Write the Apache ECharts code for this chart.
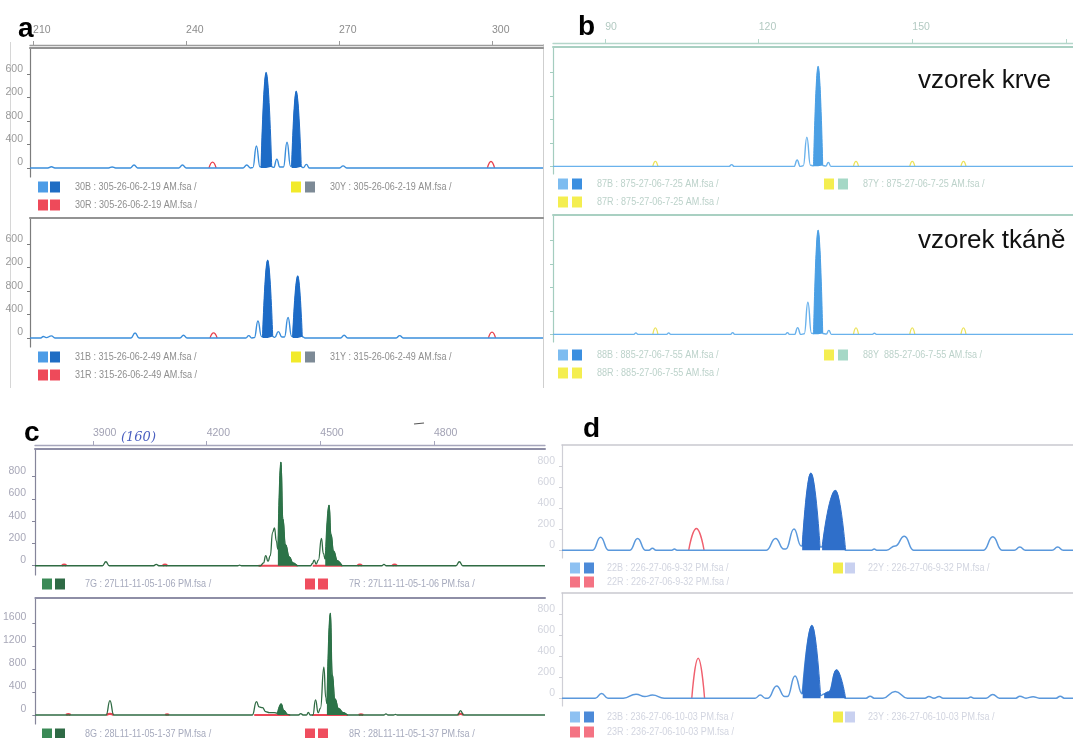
<!DOCTYPE html>
<html>
<head>
<meta charset="utf-8">
<script src="https://cdn.jsdelivr.net/npm/echarts@6/dist/echarts.min.js"></script>
<style>
html,body{margin:0;padding:0;background:#fff}
#chart{width:1073px;height:738px}
</style>
</head>
<body>
<div id="chart"></div>
<script>
// ---------------- data ----------------
// Panel a: fragment size (bp) vs. signal (RFU), blue and red dye channels
const aSizeTicks = [210, 240, 270, 300];
const aRfuTicks = [0, 400, 800, 1200, 1600];
const aRfuLabels = ['0', '400', '800', '200', '600'];
const a1Blue = [
  [209.4,0],[212.9,0],[213.6,20],[214.3,0],
  [224.8,0],[225.5,15],[226.2,0],
  [229.1,0],[229.8,50],[230.5,0],
  [238.6,0],[239.3,50],[240.0,0],
  [251.2,0],[251.9,50],[252.6,0],
  [253.1,5],[253.8,375],[254.5,20],
  [254.7,15],[255.7,1630],[256.8,20],
  [257.2,10],[257.8,150],[258.4,15],
  [259.1,15],[259.8,440],[260.5,30],
  [260.7,30],[261.6,1310],[262.6,20],
  [263.0,5],[263.6,60],[264.2,0],
  [270.1,0],[270.8,35],[271.5,0],
  [310.0,0]
];
const a1Red = [[244.5,0],[245.2,100],[245.9,0],[null,null],[299.1,0],[299.8,110],[300.5,0]];
const a1Called = [[254.6, 256.9], [260.65, 262.7]];
const a2Blue = [
  [209.4,0],[211.5,0],[212.0,25],[212.6,5],[213.6,35],[214.3,0],
  [229.2,0],[230.0,85],[230.8,0],
  [238.8,0],[239.5,45],[240.2,0],
  [251.7,0],[252.3,40],[252.9,0],
  [253.4,5],[254.1,290],[254.8,25],
  [255.0,20],[256.0,1330],[257.0,25],
  [257.4,10],[258.1,108],[258.8,15],
  [259.3,15],[260.0,350],[260.7,30],
  [260.9,25],[261.9,1060],[262.8,20],
  [263.3,0],
  [270.3,0],[271.0,45],[271.7,0],
  [281.2,0],[281.9,40],[282.6,0],
  [310.0,0]
];
const a2Red = [[244.7,0],[245.4,85],[246.1,0],[null,null],[299.3,0],[300.0,100],[300.7,0]];
const a2Called = [[254.9, 257.1], [260.85, 262.9]];
const aLegend1 = ['30B : 305-26-06-2-19 AM.fsa /', '30Y : 305-26-06-2-19 AM.fsa /', '30R : 305-26-06-2-19 AM.fsa /'];
const aLegend2 = ['31B : 315-26-06-2-49 AM.fsa /', '31Y : 315-26-06-2-49 AM.fsa /', '31R : 315-26-06-2-49 AM.fsa /'];

// Panel b: blue and yellow channels
const bSizeTicks = [90, 120, 150, 180];
const bSizeLabels = [90, 120, 150];
const bRfuTicks = [0, 400, 800, 1200, 1600];
const b1Blue = [
  [79.8,0],[114.2,0],[114.7,30],[115.2,0],
  [126.9,0],[127.5,107],[128.1,0],
  [128.7,10],[129.4,494],[130.1,20],
  [130.7,10],[131.6,1700],[132.5,15],
  [133.1,5],[133.6,68],[134.1,0],
  [181.4,0]
];
const b1Yellow = [
  [99.3,0],[99.8,85],[100.3,0],[null,null],
  [138.5,0],[139.0,85],[139.5,0],[null,null],
  [149.5,0],[150.0,85],[150.5,0],[null,null],
  [159.5,0],[160.0,85],[160.5,0]
];
const b1Called = [[130.6, 132.6]];
const b2Blue = [
  [79.8,0],[95.6,0],[96.0,25],[96.4,0],
  [102.0,0],[102.4,25],[102.8,0],
  [114.5,0],[114.9,30],[115.3,0],
  [125.2,0],[125.6,30],[126.0,0],
  [127.0,0],[127.6,115],[128.2,0],
  [128.9,10],[129.6,545],[130.3,20],
  [130.7,10],[131.6,1770],[132.5,15],
  [133.2,5],[133.7,68],[134.2,0],
  [142.2,0],[142.6,20],[143.0,0],
  [181.4,0]
];
const b2Yellow = [
  [99.3,0],[99.8,110],[100.3,0],[null,null],
  [138.5,0],[139.0,110],[139.5,0],[null,null],
  [149.5,0],[150.0,110],[150.5,0],[null,null],
  [159.5,0],[160.0,110],[160.5,0]
];
const b2Called = [[130.6, 132.6]];
const bLegend1 = ['87B : 875-27-06-7-25 AM.fsa /', '87Y : 875-27-06-7-25 AM.fsa /', '87R : 875-27-06-7-25 AM.fsa /'];
const bLegend2 = ['88B : 885-27-06-7-55 AM.fsa /', '88Y  885-27-06-7-55 AM.fsa /', '88R : 885-27-06-7-55 AM.fsa /'];
const bNotes = ['vzorek krve', 'vzorek tkáně'];

// Panel c: scan number vs. signal, green and red channels
const cScanTicks = [3900, 4200, 4500, 4800];
const c1RfuTicks = [0, 200, 400, 600, 800];
const c2RfuTicks = [0, 400, 800, 1200, 1600];
const c1Green = [
  [3747,0],[3925,0],[3934,36],[3943,0],
  [4060,0],[4067,12],[4074,0],
  [4282,0],[4287,6],[4292,0],
  [4342,0],[4350,25],[4356,90],[4362,40],[4368,90],[4374,300],[4379,340],[4384,220],[4388,150],
  [4396,930],[4401,420],[4408,190],[4418,80],[4428,25],[4440,0],
  [4474,0],[4479,20],[4484,51],[4489,15],[4495,50],[4503,245],[4508,110],[4513,60],
  [4523,544],[4528,280],[4535,130],[4545,45],[4558,0],
  [4662,0],[4668,12],[4674,0],
  [4858,0],[4867,36],[4876,0],
  [5093,0]
];
const c1Red = [
  [3818,0],[3824,10],[3830,0],[null,null],
  [4084,0],[4090,10],[4096,0],[null,null],
  [4337,0],[4440,0],[null,null],
  [4480,0],[4558,0],[null,null],
  [4598,0],[4604,10],[4610,0],[null,null],
  [4690,0],[4696,10],[4702,0]
];
const c1Called = [[4387, 4441], [4512, 4559]];
const c2Green = [
  [3747,0],[3934,0],[3944,249],[3954,0],
  [4320,0],[4331,232],[4338,140],[4347,127],[4355,60],[4365,40],[4378,40],[4386,30],
  [4396,191],[4403,80],[4412,10],[4420,0],
  [4442,0],[4448,25],[4454,0],[4463,0],[4468,45],[4473,0],
  [4480,0],[4487,261],[4494,40],[4500,120],[4509,830],[4514,300],[4517,200],
  [4526,1770],[4531,700],[4538,280],[4548,110],[4560,40],[4572,0],
  [4668,0],[4673,20],[4678,0],
  [4693,0],[4698,10],[4703,0],
  [4862,0],[4870,75],[4878,0],
  [5093,0]
];
const c2Red = [
  [3828,0],[3834,15],[3840,0],[null,null],
  [3934,0],[3944,20],[3954,0],[null,null],
  [4090,0],[4095,12],[4100,0],[null,null],
  [4325,0],[4420,0],[null,null],
  [4478,0],[4572,0],[null,null],
  [4601,0],[4607,12],[4613,0],[null,null],
  [4862,0],[4870,20],[4878,0]
];
const c2Called = [[4385, 4413], [4516, 4573]];
const cLegend1 = ['7G : 27L11-11-05-1-06 PM.fsa /', '7R : 27L11-11-05-1-06 PM.fsa /'];
const cLegend2 = ['8G : 28L11-11-05-1-37 PM.fsa /', '8R : 28L11-11-05-1-37 PM.fsa /'];
const cNote = '(160)';

// Panel d: relative position vs. signal, blue and red channels
const dRfuTicks = [0, 200, 400, 600, 800];
const d1Blue = [
  [0,0],[6.0,0],[7.55,124],[9.1,0],
  [13.3,0],[14.8,111],[16.3,0],
  [17.0,0],[17.7,19],[18.4,0],
  [21.5,0],[22.0,10],[22.5,0],
  [40.0,0],[41.8,111],[43.4,10],
  [43.8,10],[45.4,203],[46.8,40],
  [47.0,40],[48.7,736],[50.5,30],
  [50.9,30],[53.5,569],[55.5,0],
  [60.6,0],[61.1,10],[61.6,0],
  [63.5,0],[65.2,40],[67.0,133],[68.8,0],
  [82.5,0],[84.3,127],[86.1,0],
  [88.5,0],[89.6,29],[90.7,0],
  [95.9,0],[97.0,29],[98.1,0],
  [100,0]
];
const d1Red = [[24.8,0],[26.3,207],[27.8,0]];
const d1Called = [[46.95, 50.6], [50.8, 55.6]];
const d2Blue = [
  [0,0],[6.5,0],[7.75,45],[9.0,0],
  [12.0,0],[14.5,38],[16.2,15],[17.7,29],[20.0,0],
  [37.8,0],[38.8,29],[39.8,0],
  [40.3,0],[42.0,117],[43.6,15],
  [44.1,15],[45.6,212],[47.0,40],
  [47.1,40],[48.9,695],[50.6,25],
  [51.3,40],[52.2,60],[53.7,270],[55.5,0],
  [59.5,0],[60.3,19],[61.1,0],
  [62.8,0],[65.2,64],[67.6,0],
  [71.0,0],[71.8,15],[72.8,0],[73.8,15],[74.6,0],
  [79.4,0],[80.0,10],[80.6,0],
  [83.0,0],[84.3,35],[85.6,0],
  [88.8,0],[89.6,19],[90.8,0],[92.2,14],[93.4,0],
  [96.7,0],[97.5,19],[98.3,0],
  [100,0]
];
const d2Red = [[25.4,0],[26.65,381],[27.9,0]];
const d2Called = [[47.05, 50.7], [51.2, 55.6]];
const dLegend1 = ['22B : 226-27-06-9-32 PM.fsa /', '22Y : 226-27-06-9-32 PM.fsa /', '22R : 226-27-06-9-32 PM.fsa /'];
const dLegend2 = ['23B : 236-27-06-10-03 PM.fsa /', '23Y : 236-27-06-10-03 PM.fsa /', '23R : 236-27-06-10-03 PM.fsa /'];

const panelLetters = ['a', 'b', 'c', 'd'];

// ---------------- helpers ----------------
const FONT = '"Liberation Sans", Arial, sans-serif';

// keep only the trace points that lie inside the called-allele ranges
function calledPeaks(trace, ranges) {
  const out = [];
  ranges.forEach((r, i) => {
    if (i) out.push([null, null]);
    trace.forEach(p => { if (p[0] >= r[0] && p[0] <= r[1]) out.push(p); });
  });
  return out;
}

const option = {
  animation: false,
  backgroundColor: '#ffffff',
  grid: [], xAxis: [], yAxis: [], series: [], graphic: []
};

function addPlot(p) {
  const gi = option.grid.length;
  option.grid.push({ left: p.box[0], top: p.box[1], width: p.box[2], height: p.box[3] });
  const xBase = { gridIndex: gi, type: 'value', min: p.x[0], max: p.x[1], splitLine: { show: false } };
  const xi = option.xAxis.length;
  option.xAxis.push(Object.assign({}, xBase, { show: false }));
  option.xAxis.push(Object.assign({}, xBase, {
    position: 'top',
    axisLine: { show: true, onZero: false, lineStyle: { color: p.frameTop, width: p.frameTopW } },
    axisTick: { show: false }, axisLabel: { show: false }
  }));
  if (p.scale) {
    option.xAxis.push(Object.assign({}, xBase, {
      position: 'top', offset: p.scale.offset,
      axisLine: { show: true, onZero: false, lineStyle: { color: p.scale.line, width: 1.3 } },
      axisTick: { show: true, length: 4, customValues: p.scale.ticks, lineStyle: { color: p.scale.line, width: 1 } },
      axisLabel: { show: true, customValues: p.scale.labels, align: 'left', margin: p.scale.margin,
                   formatter: v => String(v),
                   color: p.scale.text, fontSize: 10.5, fontFamily: FONT }
    }));
  }
  const yi = option.yAxis.length;
  option.yAxis.push({
    gridIndex: gi, type: 'value', min: p.y[0], max: p.y[1], splitLine: { show: false },
    axisLine: { show: true, onZero: false, lineStyle: { color: p.frame, width: 1.2 } },
    axisTick: { show: true, length: 3, customValues: p.yTicks, lineStyle: { color: p.frame } },
    axisLabel: {
      show: !!p.yLabels, customValues: p.yTicks,
      formatter: v => (p.yLabels ? p.yLabels[p.yTicks.indexOf(v)] : ''),
      verticalAlign: 'bottom', margin: p.yMargin, color: p.yText, fontSize: 10.5, fontFamily: FONT
    }
  });
  p.traces.forEach(t => {
    const s = {
      type: 'line', xAxisIndex: xi, yAxisIndex: yi, data: t.data,
      showSymbol: false, symbol: 'none', smooth: 0.5, smoothMonotone: 'x',
      connectNulls: false, silent: true, z: t.z,
      lineStyle: { color: t.color, width: t.width || 1.3 }
    };
    if (t.fill) s.areaStyle = { color: t.fill, opacity: 1 };
    option.series.push(s);
  });
}

function legend(rowY, items, textColor) {
  items.forEach(it => {
    it.colors.forEach((c, k) => {
      option.graphic.push({ type: 'rect', silent: true,
        shape: { x: it.sq[k], y: rowY - 5.5, width: 10, height: 11 }, style: { fill: c } });
    });
    option.graphic.push({ type: 'text', silent: true, x: it.tx, y: rowY, scaleX: 0.86,
      style: { text: it.text, fill: textColor, font: '10.5px ' + FONT, verticalAlign: 'middle' } });
  });
}

function label(text, x, y, font, fill) {
  option.graphic.push({ type: 'text', silent: true, x: x, y: y,
    style: { text: text, fill: fill, font: font, verticalAlign: 'middle' } });
}
function rule(x1, y1, x2, y2, color, w) {
  option.graphic.push({ type: 'line', silent: true, shape: { x1, y1, x2, y2 },
    style: { stroke: color, lineWidth: w } });
}

// ---------------- panel a ----------------
const aBlueLine = '#3b8edb', aBlueFill = '#1d6bc6', aRed = '#e8404c';
[[a1Blue, a1Red, a1Called, 48, true], [a2Blue, a2Red, a2Called, 218, false]].forEach(([bl, rd, cl, top, sc]) => {
  addPlot({
    box: [30, top, 513, 129], x: [209.4, 310], y: [-155, 2050],
    frame: '#7c7c7c', frameTop: '#939393', frameTopW: 2.2,
    scale: sc ? { offset: 3, ticks: aSizeTicks, labels: aSizeTicks, margin: 9, line: '#9c9c9c', text: '#8c8c8c' } : null,
    yTicks: aRfuTicks, yLabels: aRfuLabels, yMargin: 7, yText: '#9a9a9a',
    traces: [
      { data: rd, color: aRed, width: 1.3, z: 2 },
      { data: bl, color: aBlueLine, width: 1.4, z: 3 },
      { data: calledPeaks(bl, cl), color: aBlueFill, fill: aBlueFill, width: 1, z: 4 }
    ]
  });
});
const aSq = { B: ['#4d9ce6', '#1f6dc4'], Y: ['#f2ea2a', '#7d8a96'], R: ['#ee4a5a', '#ee4a5a'] };
[[aLegend1, 187, 205], [aLegend2, 357, 375]].forEach(([L, r1, r2]) => {
  legend(r1, [{ sq: [38, 50], colors: aSq.B, tx: 75, text: L[0] }, { sq: [291, 305], colors: aSq.Y, tx: 330, text: L[1] }], '#8e8e8e');
  legend(r2, [{ sq: [38, 50], colors: aSq.R, tx: 75, text: L[2] }], '#8e8e8e');
});
rule(10.5, 42, 10.5, 388, '#d6d6d6', 1);
rule(543.5, 44, 543.5, 388, '#cfcfcf', 1);

// ---------------- panel b ----------------
const bBlueLine = '#6ab2ec', bBlueFill = '#4a9fe4', bYellow = '#ece35a';
[[b1Blue, b1Yellow, b1Called, 47, true], [b2Blue, b2Yellow, b2Called, 215, false]].forEach(([bl, yl, cl, top, sc]) => {
  addPlot({
    box: [553, top, 520, 127], x: [79.8, 181.4], y: [-130, 2030],
    frame: '#a4cdbf', frameTop: '#a9d0c2', frameTopW: 2,
    scale: sc ? { offset: 4, ticks: bSizeTicks, labels: bSizeLabels, margin: 10, line: '#b4d6ca', text: '#b3cac2' } : null,
    yTicks: bRfuTicks, yLabels: null, yMargin: 7, yText: '#b3cac2',
    traces: [
      { data: yl, color: bYellow, width: 1.3, z: 2 },
      { data: bl, color: bBlueLine, width: 1.4, z: 3 },
      { data: calledPeaks(bl, cl), color: bBlueFill, fill: bBlueFill, width: 1, z: 4 }
    ]
  });
});
const bSq = { B: ['#7dbcf0', '#3b8fe0'], Y: ['#f4ee50', '#a5d8c6'], R: ['#f4ee50', '#f4ee50'] };
[[bLegend1, 184, 202], [bLegend2, 355, 373]].forEach(([L, r1, r2]) => {
  legend(r1, [{ sq: [558, 572], colors: bSq.B, tx: 597, text: L[0] }, { sq: [824, 838], colors: bSq.Y, tx: 863, text: L[1] }], '#bcd2ca');
  legend(r2, [{ sq: [558, 572], colors: bSq.R, tx: 597, text: L[2] }], '#bcd2ca');
});
label(bNotes[0], 918, 81, '26px ' + FONT, '#111');
label(bNotes[1], 918, 241, '26px ' + FONT, '#111');

// ---------------- panel c ----------------
const cLine = '#2f6b43', cFill = '#2c7348', cRed = '#ec4656';
[[c1Green, c1Red, c1Called, 449, [-83, 1047], c1RfuTicks, true],
 [c2Green, c2Red, c2Called, 598, [-157, 2035], c2RfuTicks, false]].forEach(([gr, rd, cl, top, yr, yt, sc]) => {
  addPlot({
    box: [35, top, 510, 126], x: [3747, 5093], y: yr,
    frame: '#85859a', frameTop: '#8e8ea6', frameTopW: 2,
    scale: sc ? { offset: 4, ticks: cScanTicks, labels: cScanTicks, margin: 6, line: '#a6a6bc', text: '#a2a2b4' } : null,
    yTicks: yt, yLabels: yt.map(String), yMargin: 9, yText: '#a8a8b8',
    traces: [
      { data: rd, color: cRed, width: 2.2, z: 2 },
      { data: gr, color: cLine, width: 1.3, z: 3 },
      { data: calledPeaks(gr, cl), color: cFill, fill: cFill, width: 1, z: 4 }
    ]
  });
});
const cSq = { G: ['#3a8a56', '#2e6a45'], R: ['#ef4d5e', '#ef4d5e'] };
[[cLegend1, 584], [cLegend2, 734]].forEach(([L, r]) => {
  legend(r, [{ sq: [42, 55], colors: cSq.G, tx: 85, text: L[0] }, { sq: [305, 318], colors: cSq.R, tx: 349, text: L[1] }], '#a6aabd');
});
option.graphic.push({ type: 'text', silent: true, x: 121, y: 438,
  style: { text: cNote, fill: '#4a5fc0', font: 'italic 13px "DejaVu Serif", serif', verticalAlign: 'middle' } });
rule(414, 424, 424, 423, '#555', 1.2);

// ---------------- panel d ----------------
const dBlueLine = '#5a98dc', dBlueFill = '#2f6fca', dRed = '#f0606e';
[[d1Blue, d1Red, d1Called, 445], [d2Blue, d2Red, d2Called, 593]].forEach(([bl, rd, cl, top]) => {
  addPlot({
    box: [562, top, 511, 113], x: [0, 100], y: [-75, 1005],
    frame: '#cfcfd6', frameTop: '#c9c9cf', frameTopW: 1.6,
    scale: null,
    yTicks: dRfuTicks, yLabels: dRfuTicks.map(String), yMargin: 7, yText: '#d3d5de',
    traces: [
      { data: rd, color: dRed, width: 1.4, z: 2 },
      { data: bl, color: dBlueLine, width: 1.5, z: 3 },
      { data: calledPeaks(bl, cl), color: dBlueFill, fill: dBlueFill, width: 1, z: 4 }
    ]
  });
});
const dSq = { B: ['#8ec1f2', '#4c8ad8'], Y: ['#f2ec4a', '#c9d1f0'], R: ['#f47383', '#f47383'] };
[[dLegend1, 568, 582], [dLegend2, 717, 732]].forEach(([L, r1, r2]) => {
  legend(r1, [{ sq: [570, 584], colors: dSq.B, tx: 607, text: L[0] }, { sq: [833, 845], colors: dSq.Y, tx: 868, text: L[1] }], '#d2d5e0');
  legend(r2, [{ sq: [570, 584], colors: dSq.R, tx: 607, text: L[2] }], '#d2d5e0');
});

// ---------------- panel letters ----------------
label(panelLetters[0], 18, 29, 'bold 28px ' + FONT, '#000');
label(panelLetters[1], 578, 27, 'bold 28px ' + FONT, '#000');
label(panelLetters[2], 24, 433, 'bold 28px ' + FONT, '#000');
label(panelLetters[3], 583, 429, 'bold 28px ' + FONT, '#000');

const chart = echarts.init(document.getElementById('chart'), null, { renderer: 'canvas' });
chart.setOption(option);
</script>
</body>
</html>
